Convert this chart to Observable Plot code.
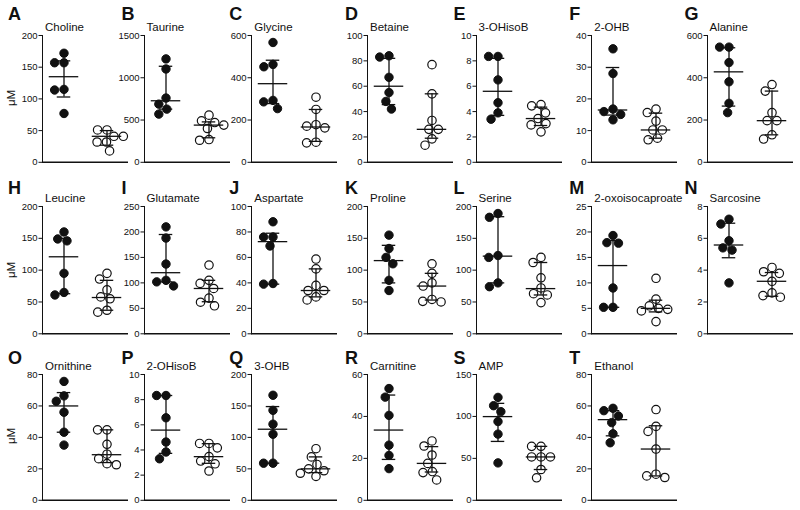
<!DOCTYPE html>
<html><head><meta charset="utf-8">
<script src="https://cdn.jsdelivr.net/npm/d3@7"></script>
<script src="https://cdn.jsdelivr.net/npm/@observablehq/plot@0.6"></script>
<style>
body{margin:0;background:#fff;}
#chart{position:relative;width:800px;height:510px;font-family:"Liberation Sans",Arial,Helvetica,sans-serif;color:#111;overflow:hidden;background:#fff}
.lbl{position:absolute;white-space:nowrap;line-height:1}
.letter{font-weight:bold;font-size:18px}
.title{font-size:11.5px}
.unit{font-size:11.5px;transform:translate(-50%,-50%) rotate(-90deg)}
#chart svg{position:absolute}
</style></head><body><div id="chart"></div>
<script>
// ---------- data ----------
const metabolites = ["Choline","Taurine","Glycine","Betaine","3-OHisoB","2-OHB","Alanine",
  "Leucine","Glutamate","Aspartate","Proline","Serine","2-oxoisocaproate","Sarcosine",
  "Ornithine","2-OHisoB","3-OHB","Carnitine","AMP","Ethanol"];
const panelLetters = ["A","B","C","D","E","F","G","H","I","J","K","L","M","N","O","P","Q","R","S","T"];
const yMax  = [200,1500,600,100,10,40,600, 200,250,100,200,200,25,8, 80,10,200,60,150,80];
const yStep = [50,500,200,20,2,10,200, 50,50,20,50,50,5,2, 20,2,50,20,50,20];
const unitLabel = "μM";
const groups = ["group 1", "group 2"]; // filled dots, open dots

const filledValues = [
  [172,157,157,115,114,77],
  [1223,1104,760,688,629,570],
  [567,463,452,293,286,254],
  [84,83,67,55,48,42],
  [8.35,8.35,6.5,4.7,3.9,3.4],
  [35.8,28,16.8,16,15.1,13.4],
  [545,545,472,381,279,235],
  [160,149,146,95,65,61],
  [210,188,137,105,102,94],
  [88,76,76,69,39.5,39],
  [155,134,120,110,84,68],
  [189,183,123,120,80,74],
  [19.3,17.9,17.8,9.0,5.2,5.2],
  [7.2,6.9,5.85,5.4,5.26,3.2],
  [75.6,66.4,63,56,43.3,35.1],
  [8.33,8.33,6.56,4.63,3.84,3.3],
  [167,143,121,105,59,59],
  [53.3,49.2,40.5,26.3,21.4,15.1],
  [122.7,112.8,105.7,93.9,78.9,44.6],
  [58.5,57,53.6,49.4,42.3,36.6]
];
const openValues = [
  [51,51,41,41,32,32,18],
  [558,491,470,440,400,269,261],
  [308,250,178,171,163,95,92],
  [77,54,33,26,26,18.5,13.5],
  [4.55,4.45,3.9,3.45,3.05,2.95,2.4],
  [16.8,15.7,13,10.2,10.2,7.6,7.1],
  [368,337,235,197,197,130,110],
  [95,86,69,58,55,37,34],
  [135,105,99,89,70,62,55],
  [58.7,51,38,34,34,29,26.6],
  [110,95,80,75,54,51,50],
  [120,112,88,72,63,61,49],
  [10.9,6.8,5.5,5.0,4.8,4.5,2.4],
  [4.17,3.9,3.8,3.3,2.57,2.4,2.3],
  [44.8,44.8,35.6,29.3,26.5,23.3,22.6],
  [4.52,4.52,4.17,3.47,3.12,2.9,2.33],
  [82,69,57,50,47,43,38],
  [28.3,25.9,21.6,17.6,13.7,13.2,9.7],
  [64.3,64.3,51.7,51.7,51.7,36.7,26.8],
  [57.7,47,43.8,32.6,16.6,15.5,14.5]
];
// [lower, median, upper] per panel
const filledStats = [
  [103,135,160],[629,728,1136],[278,372,483],[45.5,60,82],[3.7,5.6,8.2],[14.9,16.5,29.9],[266,428,542],
  [63,121,150],[102,120,195],[39,72.4,79],[80,115,139],[80,122,184],[5.2,13.4,18.3],[4.78,5.58,6.95],
  [43.3,60,68.5],[3.73,5.58,8.33],[59,113,149],[19.5,33.5,50.2],[70.2,99.8,115.6],[41,51.3,57]
];
const openStats = [
  [27,41,50],[290,440,478],[99,167,250],[19,26,54],[2.9,3.45,4.35],[7.6,10.2,15.5],[130,197,337],
  [37,57,84],[63,89,105],[29,34,51],[53,75,95],[61,71,112],[4.3,5.0,6.6],[2.36,3.3,3.85],
  [24,29,44.8],[2.94,3.47,4.5],[44,50,69],[13.5,17.6,25.6],[36.7,51.7,64.3],[15.5,32.6,47.4]
];

// ---------- layout ----------
const ink = "#111";
const colAxis = [41, 142.5, 250.3, 366, 474.5, 590.3, 705.5];
const rowTop = [34.5, 206, 373.5], rowZero = [161.3, 333.3, 499.3];
const letterBase = [20, 194, 364.5], titleBase = [32, 203, 371];
const ML = 36, MR = 3, MT = 7, MB = 7, FW = 87;
const chart = document.getElementById("chart");

function addLabel(text, cls, left, top) {
  const d = document.createElement("div");
  d.className = "lbl " + cls;
  d.textContent = text;
  d.style.left = left + "px";
  d.style.top = top + "px";
  chart.appendChild(d);
  return d;
}

metabolites.forEach((name, i) => {
  const row = Math.floor(i / 7), col = i % 7;
  const h = rowZero[row] - rowTop[row];
  const ptsA = filledValues[i].map(v => ({g: groups[0], v}));
  const ptsB = openValues[i].map(v => ({g: groups[1], v}));
  const stats = [
    {g: groups[0], lo: filledStats[i][0], med: filledStats[i][1], hi: filledStats[i][2]},
    {g: groups[1], lo: openStats[i][0], med: openStats[i][1], hi: openStats[i][2]}
  ];
  const facetW = FW / 2;
  const capInset = (facetW - 14) / 2, medInset = (facetW - 30) / 2;
  const svg = Plot.plot({
    width: ML + FW + MR, height: MT + h + MB,
    marginLeft: ML, marginRight: MR, marginTop: MT, marginBottom: MB,
    style: {fontFamily: '"Liberation Sans", Arial, sans-serif', fontSize: "9.5px", color: ink, background: "transparent", overflow: "visible"},
    fx: {domain: groups, padding: 0, axis: null, label: null},
    x: {domain: [0, 1], axis: null},
    y: {domain: [0, yMax[i]], ticks: d3.range(0, yMax[i] + yStep[i] / 2, yStep[i]),
        tickFormat: d => String(d), tickSize: 3.5, tickPadding: 1.5, line: true, label: null},
    marks: [
      Plot.ruleY([0], {stroke: ink, strokeWidth: 1.4}),
      Plot.dot(ptsA, Plot.dodgeX("middle", {fx: "g", y: "v", r: 4.2, padding: 1.2, fill: ink, stroke: ink, strokeWidth: 1})),
      Plot.dot(ptsB, Plot.dodgeX("middle", {fx: "g", y: "v", r: 4.2, padding: 1.2, fill: "white", stroke: ink, strokeWidth: 1.2})),
      Plot.ruleX(stats, {fx: "g", x: () => 0.5, y1: "lo", y2: "hi", stroke: ink, strokeWidth: 1.3}),
      Plot.tickY(stats, {fx: "g", y: "lo", insetLeft: capInset, insetRight: capInset, stroke: ink, strokeWidth: 1.3}),
      Plot.tickY(stats, {fx: "g", y: "hi", insetLeft: capInset, insetRight: capInset, stroke: ink, strokeWidth: 1.3}),
      Plot.tickY(stats, {fx: "g", y: "med", insetLeft: medInset, insetRight: medInset, stroke: ink, strokeWidth: 1.3})
    ]
  });
  svg.style.left = (colAxis[col] - ML) + "px";
  svg.style.top = (rowTop[row] - MT) + "px";
  chart.appendChild(svg);

  addLabel(panelLetters[i], "letter", col === 0 ? 8 : colAxis[col] - 21, letterBase[row] - 0.846 * 18);
  addLabel(name, "title", colAxis[col] + 4, titleBase[row] - 0.846 * 11.5);
  if (col === 0) addLabel(unitLabel, "unit", 12, (rowTop[row] + rowZero[row]) / 2);
});
</script></body></html>
